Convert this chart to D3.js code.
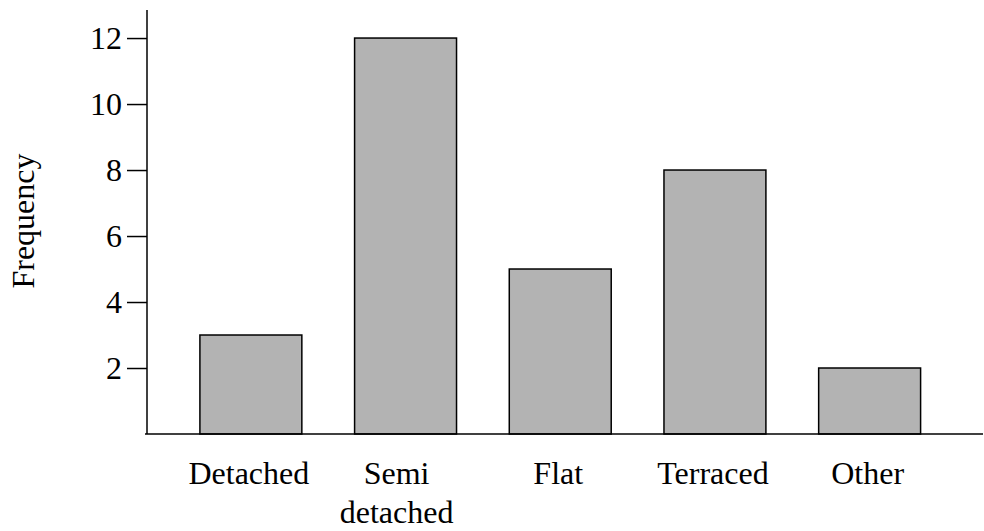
<!DOCTYPE html>
<html><head><meta charset="utf-8">
<script src="https://cdn.jsdelivr.net/npm/d3@7"></script>
<style>body{margin:0;background:#fff}svg{display:block}text{font-family:"Liberation Serif","Times New Roman",serif;fill:#000}</style>
</head><body><svg id="c" width="984" height="531"></svg>
<script>
const categories = ["Detached", "Semi\ndetached", "Flat", "Terraced", "Other"];
const frequency = [3, 12, 5, 8, 2];
const yTicks = [2, 4, 6, 8, 10, 12];
const yLabel = "Frequency";

const svg = d3.select("#c");
const x = d3.scaleBand().domain(categories).range([147, 973.5]).paddingInner(0.341).paddingOuter(0.342);
const y = d3.scaleLinear().domain([0, 12.85]).range([434, 10]);

// bars
svg.selectAll("rect.bar").data(categories).join("rect")
  .attr("x", d => x(d)).attr("width", x.bandwidth())
  .attr("y", (d, i) => y(frequency[i])).attr("height", (d, i) => y(0) - y(frequency[i]))
  .attr("fill", "#b3b3b3").attr("stroke", "#000").attr("stroke-width", 1.5);

// y axis
const ya = svg.append("g").attr("transform", "translate(147,0)")
  .call(d3.axisLeft(y).tickValues(yTicks).tickSize(20).tickPadding(5).tickFormat(d3.format("d")));
ya.attr("font-family", null).attr("font-size", null);
ya.select(".domain").attr("d", `M0,${y(0)}V${y(12.85)}`).attr("stroke-width", 1.5);
ya.selectAll(".tick line").attr("stroke-width", 1.5);
ya.selectAll(".tick text").style("font-size", "32px").attr("dy", "0.34em");

// x axis line
svg.append("line").attr("x1", 145).attr("x2", 983).attr("y1", y(0)).attr("y2", y(0))
  .attr("stroke", "#000").attr("stroke-width", 1.5);

// x labels
const xl = svg.selectAll("text.xl").data(categories).join("text")
  .attr("class", "xl").attr("text-anchor", "middle").style("font-size", "32px")
  .attr("transform", d => `translate(${x(d) + x.bandwidth() / 2 + (d.includes("\n") ? -9 : -2)},484)`);
xl.selectAll("tspan").data(d => d.split("\n")).join("tspan")
  .attr("x", 0).attr("dy", (d, i) => i ? 39 : 0).text(d => d);

// y label
svg.append("text").attr("transform", `translate(34,221) rotate(-90)`)
  .attr("text-anchor", "middle").style("font-size", "32px").text(yLabel);
</script></body></html>
